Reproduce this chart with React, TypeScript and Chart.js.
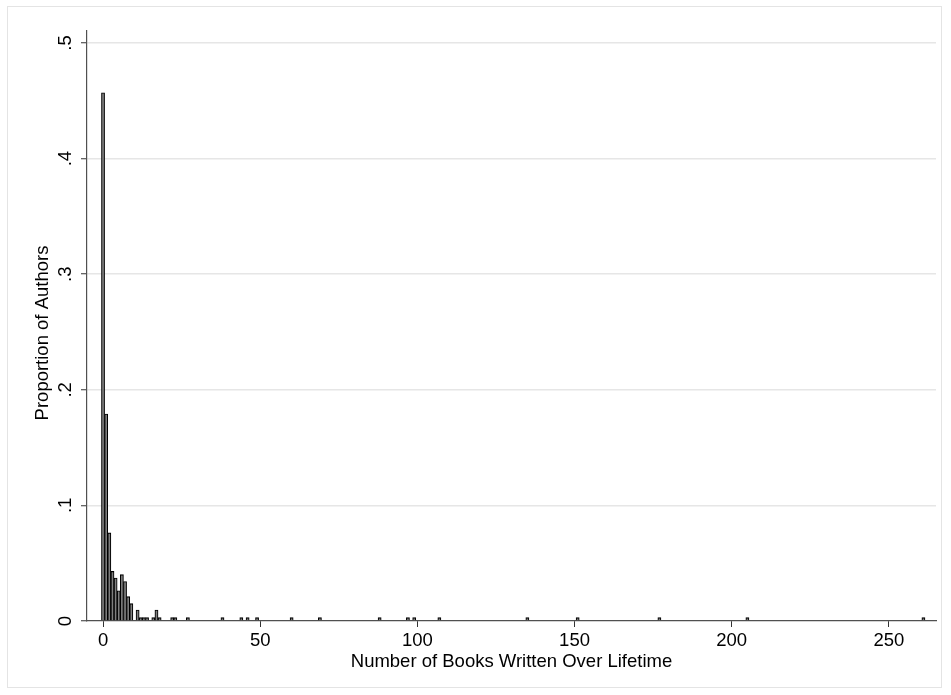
import React, { useEffect, useRef } from "react";
import { Chart, registerables } from "chart.js";

Chart.register(...registerables);

// Number of books (bin value, width 1) and proportion of authors in each bin
const bookCounts = [
  0, 1, 2, 3, 4, 5, 6, 7, 8, 9, 11, 12, 13, 14, 16, 17, 18, 22, 23, 27, 38, 44,
  46, 49, 60, 69, 88, 97, 99, 107, 135, 151, 177, 205, 261,
];
const proportions = [
  0.457, 0.179, 0.0762, 0.0429, 0.0372, 0.0262, 0.0401, 0.0341, 0.0211, 0.015,
  0.0095, 0.0029, 0.0029, 0.0029, 0.0029, 0.0095, 0.0029, 0.0029, 0.0029,
  0.0029, 0.0029, 0.0029, 0.0029, 0.0029, 0.0029, 0.0029, 0.0029, 0.0029,
  0.0029, 0.0029, 0.0029, 0.0029, 0.0029, 0.0029, 0.0029,
];

const xTicks = [0, 50, 100, 150, 200, 250];
const xTickLabels = ["0", "50", "100", "150", "200", "250"];
const yTicks = [0, 0.1, 0.2, 0.3, 0.4, 0.5];
const yTickLabels = ["0", ".1", ".2", ".3", ".4", ".5"];

const xTitle = "Number of Books Written Over Lifetime";
const yTitle = "Proportion of Authors";

const FONT_FAMILY = "'Liberation Sans', Arial, Helvetica, sans-serif";
const FONT_SIZE = 18.5;

const framePlugin = {
  id: "frame",
  beforeDraw(chart: any) {
    const ctx = chart.ctx;
    ctx.save();
    ctx.fillStyle = "#ffffff";
    ctx.fillRect(0, 0, chart.width, chart.height);
    ctx.strokeStyle = "#e4e4e4";
    ctx.lineWidth = 1;
    ctx.strokeRect(7.5, 6.5, 934, 681);
    ctx.restore();
  },
  afterDraw(chart: any) {
    const ctx = chart.ctx;
    ctx.save();
    ctx.fillStyle = "#000";
    ctx.font = `${FONT_SIZE}px ${FONT_FAMILY}`;
    ctx.textAlign = "center";
    ctx.textBaseline = "middle";
    ctx.translate(43, 333);
    ctx.rotate(-Math.PI / 2);
    ctx.fillText(yTitle, 0, 0);
    ctx.restore();
  },
};

export default function App() {
  const canvasRef = useRef<HTMLCanvasElement | null>(null);

  useEffect(() => {
    const canvas = canvasRef.current;
    if (!canvas) return;
    const font = { family: FONT_FAMILY, size: FONT_SIZE };
    const chart = new Chart(canvas, {
      type: "bar",
      data: {
        datasets: [
          {
            data: bookCounts.map((b, i) => ({ x: b, y: proportions[i] })),
            backgroundColor: "#7f7f7f",
            borderColor: "#000000",
            borderWidth: 1.1,
            barPercentage: 1,
            categoryPercentage: 1,
          },
        ],
      },
      options: {
        animation: false,
        responsive: false,
        events: [],
        layout: { padding: { top: 31, right: 15, left: 0, bottom: 0 } },
        plugins: {
          legend: { display: false },
          tooltip: { enabled: false },
        },
        scales: {
          x: {
            type: "linear",
            min: -5.1,
            max: 265,
            offset: false,
            afterBuildTicks: (s: any) => {
              s.ticks = xTicks.map((v) => ({ value: v }));
            },
            afterFit: (s: any) => {
              s.height = 74;
            },
            grid: {
              display: true,
              drawOnChartArea: false,
              drawTicks: true,
              tickLength: 6,
              tickColor: "#333",
              tickWidth: 1,
              offset: false,
            },
            border: { display: true, color: "#505050", width: 1.2 },
            ticks: {
              color: "#000",
              font,
              padding: 3,
              maxRotation: 0,
              autoSkip: false,
              callback: (_v: any, i: number) => xTickLabels[i],
            },
            title: {
              display: true,
              text: xTitle,
              color: "#000",
              font,
              padding: { top: 0, bottom: 22 },
            },
          },
          y: {
            type: "linear",
            min: 0,
            max: 0.5104,
            afterBuildTicks: (s: any) => {
              s.ticks = yTicks.map((v) => ({ value: v }));
            },
            afterFit: (s: any) => {
              s.width = 87;
            },
            grid: {
              color: (c: any) =>
                c.tick && c.tick.value === 0 ? "rgba(0,0,0,0)" : "#e6e6e6",
              lineWidth: 1.5,
              drawTicks: true,
              tickLength: 6,
              tickColor: "#333",
              tickWidth: 1,
            },
            border: { display: true, color: "#505050", width: 1.2 },
            ticks: {
              color: "#000",
              font,
              minRotation: 90,
              maxRotation: 90,
              crossAlign: "center",
              padding: 7,
              autoSkip: false,
              callback: (_v: any, i: number) => yTickLabels[i],
            },
            title: { display: false },
          },
        },
      },
      plugins: [framePlugin],
    } as any);
    return () => chart.destroy();
  }, []);

  return (
    <div
      style={{
        position: "fixed",
        left: 0,
        top: 0,
        width: 951,
        height: 695,
        background: "#fff",
      }}
    >
      <canvas
        ref={canvasRef}
        width={951}
        height={695}
        style={{ width: 951, height: 695, display: "block" }}
      />
    </div>
  );
}
